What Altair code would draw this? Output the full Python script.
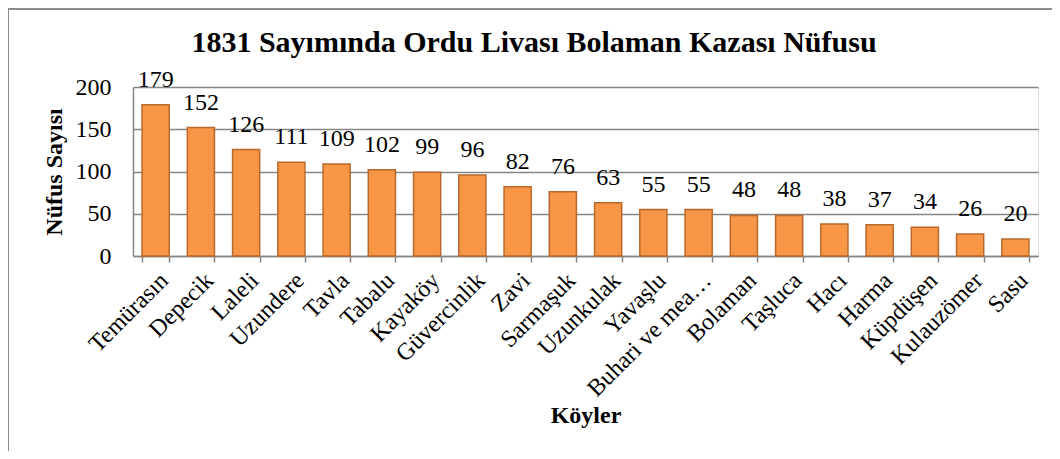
import altair as alt
import pandas as pd

villages = ["Temürasın", "Depecik", "Laleli", "Uzundere", "Tavla", "Tabalu", "Kayaköy",
            "Güvercinlik", "Zavi", "Sarmaşuk", "Uzunkulak", "Yavaşlu", "Buhari ve mea…",
            "Bolaman", "Taşluca", "Hacı", "Harma", "Küpdüşen", "Kulauzömer", "Sasu"]
population = [179, 152, 126, 111, 109, 102, 99, 96, 82, 76, 63, 55, 55, 48, 48, 38, 37, 34, 26, 20]
y_ticks = [0, 50, 100, 150, 200]
title_text = ["1831 Sayımında Ordu Livası Bolaman Kazası Nüfusu"]

df = pd.DataFrame({"Köy": villages, "Nüfus": population,
                   "Etiket": [str(v) for v in population]})

FONT = "Liberation Serif"
GRAY = "#868686"

W, H = 905, 169

x_enc = alt.X(
    "Köy:N", sort=villages, title="Köyler",
    scale=alt.Scale(paddingInner=0.4, paddingOuter=0.2),
    axis=alt.Axis(labelAngle=-45, labelFont=FONT, labelFontSize=24, labelColor="black",
                  labelPadding=6, labelLimit=300,
                  tickBand="extent", tickColor=GRAY, tickSize=6, tickWidth=1.5,
                  domainColor=GRAY, domainWidth=1.5,
                  titleFont=FONT, titleFontSize=24, titleFontWeight="bold", titleColor="black",
                  titleX=W / 2, titleY=159, titleAlign="center", titleBaseline="middle"),
)
y_enc = alt.Y(
    "Nüfus:Q",
    scale=alt.Scale(domain=[0, 200]),
    axis=alt.Axis(values=y_ticks, grid=True, gridColor=GRAY, gridWidth=1.5, ticks=False,
                  domainColor=GRAY, domainWidth=1.5,
                  labelFont=FONT, labelFontSize=24, labelColor="black", labelPadding=22,
                  title="Nüfus Sayısı", titleFont=FONT, titleFontSize=24, titleFontWeight="bold",
                  titleColor="black", titleAngle=-90, titleX=-79, titleY=H / 2,
                  titleAlign="center", titleBaseline="middle"),
)

base = alt.Chart(df)
bars = base.mark_bar(color="#F79646", stroke="#B86A2E", strokeWidth=1.5).encode(x=x_enc, y=y_enc)
labels = base.mark_text(dy=-25, baseline="middle", align="center", font=FONT, fontSize=24,
                        color="black").encode(x=alt.X("Köy:N", sort=villages),
                                              y="Nüfus:Q", text="Etiket:N")

title_df = pd.DataFrame({"t": title_text})
title = alt.Chart(title_df).mark_text(font=FONT, fontSize=30, fontWeight="bold", color="black",
                                      align="center", baseline="alphabetic").encode(
    x=alt.value(401), y=alt.value(-35), text="t:N")

frame_df = pd.DataFrame({"k": [0]})
left_line = alt.Chart(frame_df).mark_rule(color="#8c8c8c", strokeWidth=2).encode(
    x=alt.value(-125), y=alt.value(-79), y2=alt.value(400))
top_line = alt.Chart(frame_df).mark_rule(color="#8c8c8c", strokeWidth=2).encode(
    x=alt.value(-125), x2=alt.value(930), y=alt.value(-78))

chart = alt.layer(bars, labels, title, left_line, top_line).properties(
    width=W, height=H,
    autosize=alt.AutoSizeParams(type="none"),
    padding={"left": 125, "top": 79, "right": 14, "bottom": 195},
).configure_view(fill="#FCEDE6", strokeOpacity=0).configure(
    background="white", font=FONT).configure_text(font=FONT)

chart.save("out.html", embed_options={"renderer": "svg", "actions": False})
